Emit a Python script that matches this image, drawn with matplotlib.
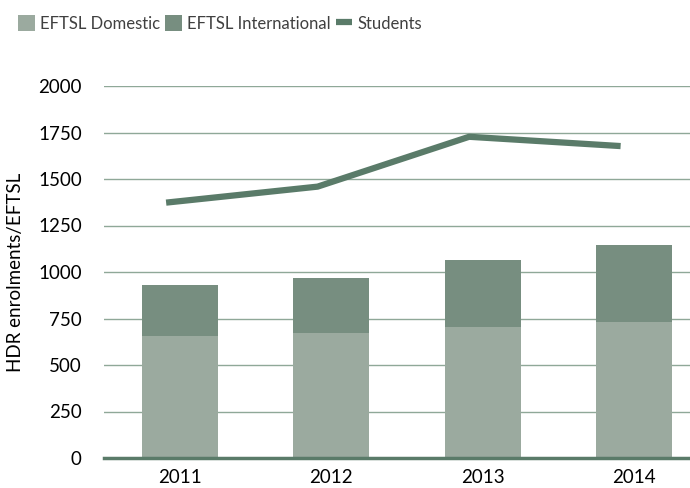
import numpy as np
import matplotlib.pyplot as plt

years = ['2011', '2012', '2013', '2014']
eftsl_domestic = [657, 674, 706, 731]
eftsl_total = [930, 969, 1065, 1145]
eftsl_international = [t - d for t, d in zip(eftsl_total, eftsl_domestic)]
students = [1373, 1459, 1727, 1677]
yticks = [0, 250, 500, 750, 1000, 1250, 1500, 1750, 2000]

c_dom = '#9BAA9F'
c_int = '#778E80'
c_line = '#5A7B69'
c_text = '#404040'

plt.rcParams['font.family'] = ['Lato', 'DejaVu Sans']

fig = plt.figure(figsize=(6.9, 4.88), dpi=100)
ax = fig.add_axes([104 / 690, 30 / 488, 586 / 690, 372 / 488])

x = np.arange(len(years))
b1 = ax.bar(x, eftsl_domestic, width=0.5, color=c_dom, label='EFTSL Domestic', zorder=2)
b2 = ax.bar(x, eftsl_international, width=0.5, bottom=eftsl_domestic, color=c_int,
            label='EFTSL International', zorder=2)
ln, = ax.plot(x - 0.09, students, color=c_line, lw=4.5, label='Students', zorder=3,
              solid_capstyle='butt')

ax.set_xlim(-0.5, -0.5 + 586 / 151.5)
ax.set_ylim(0, 2000)
ax.set_yticks(yticks)
ax.set_xticks(x)
ax.set_xticklabels(years)
ax.yaxis.grid(True, color='#8FA898', lw=1, zorder=0)
ax.set_axisbelow(True)

for s in ['top', 'right', 'left']:
    ax.spines[s].set_visible(False)
ax.spines['bottom'].set_color(c_line)
ax.spines['bottom'].set_linewidth(2.5)
ax.spines['bottom'].set_zorder(4)
ax.tick_params(axis='both', length=0, labelsize=13.5, colors='black')
ax.tick_params(axis='y', pad=16)
ax.tick_params(axis='x', pad=8)

ax.set_ylabel('HDR enrolments/EFTSL', fontsize=13.5, color='black', labelpad=10)

fig.legend([b1, b2, ln], ['EFTSL Domestic', 'EFTSL International', 'Students'],
           loc='upper left', bbox_to_anchor=(0.005, 1.0), ncol=3, frameon=False,
           fontsize=12, handlelength=1.0, handleheight=1.1, handletextpad=0.3,
           columnspacing=0.3, labelcolor=c_text)

fig.savefig('out.png', dpi=100)
